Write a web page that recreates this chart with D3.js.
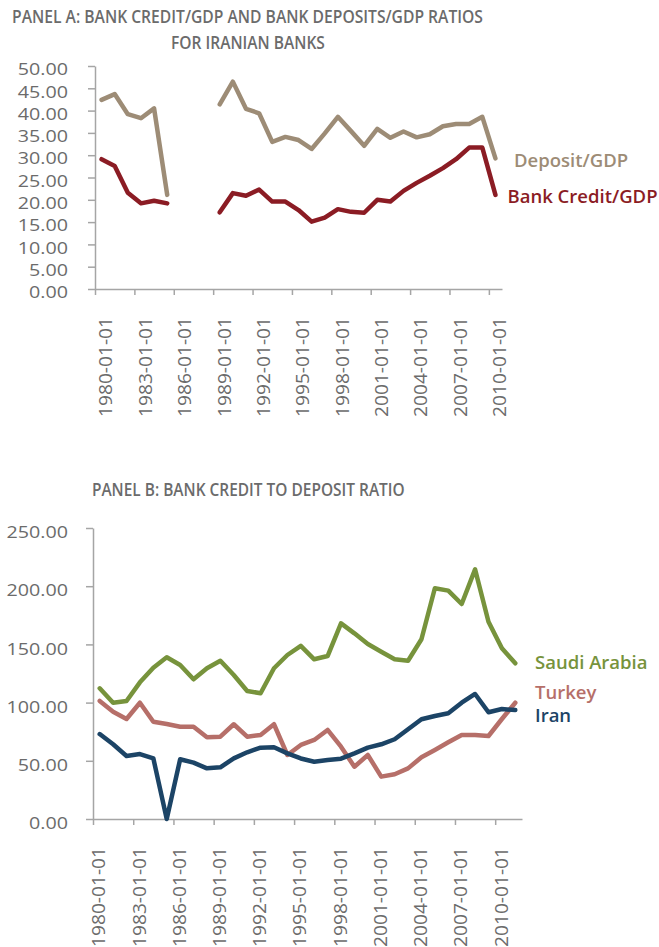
<!DOCTYPE html>
<html>
<head>
<meta charset="utf-8">
<script src="https://cdn.jsdelivr.net/npm/d3@7"></script>
<style>
  html, body { margin: 0; padding: 0; background: #fff; }
  svg { display: block; font-family: "Open Sans", "Noto Sans", sans-serif; }
</style>
</head>
<body>
<svg id="chart" width="659" height="947"></svg>
<script>
// ---- Panel A: Iranian banks, ratios to GDP (%) ----
const yearsA = [1980, 1981, 1982, 1983, 1984, 1985, 1986, 1987, 1988, 1989,
                1990, 1991, 1992, 1993, 1994, 1995, 1996, 1997, 1998, 1999,
                2000, 2001, 2002, 2003, 2004, 2005, 2006, 2007, 2008, 2009, 2010];
const depositGDP = [42.4, 43.7, 39.2, 38.3, 40.5, 21.1, null, null, null, 41.4,
                    46.5, 40.4, 39.4, 33.0, 34.1, 33.4, 31.4, 34.9, 38.6, 35.4,
                    32.1, 35.9, 33.9, 35.3, 34.0, 34.7, 36.5, 37.0, 37.0, 38.6, 29.3];
const creditGDP = [29.1, 27.6, 21.6, 19.2, 19.8, 19.2, null, null, null, 17.2,
                   21.5, 20.9, 22.3, 19.6, 19.6, 17.7, 15.1, 16.0, 17.9, 17.3,
                   17.1, 20.0, 19.6, 22.0, 23.8, 25.4, 27.1, 29.1, 31.7, 31.7, 21.1];
const yTicksA = [0, 5, 10, 15, 20, 25, 30, 35, 40, 45, 50];

// ---- Panel B: bank credit to deposit ratio (%) ----
const yearsB = [1980, 1981, 1982, 1983, 1984, 1985, 1986, 1987, 1988, 1989,
                1990, 1991, 1992, 1993, 1994, 1995, 1996, 1997, 1998, 1999,
                2000, 2001, 2002, 2003, 2004, 2005, 2006, 2007, 2008, 2009, 2010, 2011];
const saudiArabia = [112.3, 99.9, 101.4, 117.4, 130.0, 138.9, 132.3, 120.0, 129.5, 136.0,
                     123.7, 110.0, 108.0, 129.5, 140.9, 148.8, 137.2, 140.0, 168.1, 159.5,
                     150.3, 143.7, 137.2, 136.0, 154.4, 198.2, 196.2, 184.7, 214.5, 169.5,
                     146.6, 133.8];
const turkey = [101.4, 92.2, 85.9, 99.9, 83.6, 81.6, 79.3, 79.3, 70.2, 70.7,
                81.4, 70.7, 72.2, 81.4, 55.0, 63.6, 67.9, 76.5, 62.1, 44.9,
                55.0, 36.4, 38.4, 43.5, 53.0, 59.3, 65.9, 72.2, 72.2, 71.3,
                85.9, 99.9];
const iran = [73.0, 64.2, 54.1, 55.8, 52.1, 0.0, 51.3, 48.4, 43.5, 44.4,
              52.1, 57.3, 61.3, 61.6, 56.4, 52.0, 49.2, 50.7, 51.8, 56.4,
              61.3, 64.2, 68.5, 77.1, 85.7, 88.5, 90.8, 99.9, 107.4, 91.7,
              94.5, 93.6];
const yTicksB = [0, 50, 100, 150, 200, 250];

const xTickYears = [1980, 1983, 1986, 1989, 1992, 1995, 1998, 2001, 2004, 2007, 2010];

const svg = d3.select("#chart");
const axisColor = "#a5a5a5";
const textColor = "#6b6b6b";

// Stretch a text element horizontally (in its own frame) to a given width.
function fitWidth(sel, width) {
  sel.each(function () {
    const t = d3.select(this);
    const w = this.getComputedTextLength();
    const prev = t.attr("transform") || "";
    t.attr("transform", prev + ` scale(${width / w},1)`);
  });
}

function title(text, cx, baseline, width, size) {
  const t = svg.append("text")
    .attr("text-anchor", "middle")
    .attr("font-size", size)
    .attr("font-weight", 600)
    .attr("fill", textColor)
    .attr("transform", `translate(${cx},${baseline})`)
    .text(text);
  fitWidth(t, width);
}

function panel(cfg) {
  const g = svg.append("g");
  const x = d3.scaleLinear().domain(cfg.xDomain).range(cfg.xRange);
  const y = d3.scaleLinear().domain(cfg.yDomain).range(cfg.yRange);

  // y axis
  const yAxis = g.append("g")
    .attr("transform", `translate(${cfg.xRange[0]},0)`)
    .call(d3.axisLeft(y).tickValues(cfg.yTicks).tickSize(7).tickSizeOuter(0).tickFormat(d3.format(".2f")));
  yAxis.select(".domain").attr("stroke", axisColor).attr("stroke-width", 1.5);
  yAxis.selectAll(".tick line").attr("stroke", axisColor).attr("stroke-width", 1.5);
  yAxis.selectAll(".tick text")
    .attr("x", null).attr("dy", null)
    .attr("font-size", 16)
    .attr("font-family", "'Open Sans', sans-serif")
    .attr("fill", textColor)
    .attr("text-anchor", "end")
    .attr("dominant-baseline", "central")
    .attr("transform", `translate(${68 - cfg.xRange[0]},${cfg.yLabelShift}) scale(1.23,1)`);

  // x axis
  const xAxis = g.append("g")
    .attr("transform", `translate(0,${cfg.yRange[0]})`)
    .call(d3.axisBottom(x).tickValues(xTickYears).tickSize(6).tickSizeOuter(0)
      .tickFormat(d => d + "-01-01"));
  xAxis.select(".domain").attr("stroke", axisColor).attr("stroke-width", 1.5);
  xAxis.selectAll(".tick line").attr("stroke", axisColor).attr("stroke-width", 1.5);
  xAxis.selectAll(".tick text")
    .attr("y", null).attr("dy", null)
    .attr("font-size", 18.5)
    .attr("font-family", "'Open Sans', sans-serif")
    .attr("fill", textColor)
    .attr("text-anchor", "end")
    .attr("dominant-baseline", "central")
    .attr("transform", `translate(${cfg.xLabelShift},${cfg.xLabelTop - cfg.yRange[0]}) rotate(-90)`);
  fitWidth(xAxis.selectAll(".tick text"), 100);

  // series lines, points at category centres
  const line = d3.line()
    .defined(d => d.v != null)
    .x(d => x(d.year + 0.5))
    .y(d => y(d.v));
  cfg.series.forEach(s => {
    const pts = cfg.years.map((yr, i) => ({ year: yr, v: s.values[i] }));
    g.append("path")
      .datum(pts)
      .attr("fill", "none")
      .attr("stroke", s.color)
      .attr("stroke-width", 4.5)
      .attr("stroke-linejoin", "round")
      .attr("stroke-linecap", "round")
      .attr("d", line);
  });

  // series labels
  cfg.series.forEach(s => {
    g.append("text")
      .attr("x", s.lx).attr("y", s.ly)
      .attr("font-size", 18.5)
      .attr("font-weight", 600)
      .attr("fill", s.color)
      .text(s.name);
  });
}

// Titles
title("PANEL A: BANK CREDIT/GDP AND BANK DEPOSITS/GDP RATIOS", 247.5, 22.7, 471, 18);
title("FOR IRANIAN BANKS", 248, 49.3, 154, 18);
title("PANEL B: BANK CREDIT TO DEPOSIT RATIO", 248.3, 496, 313, 18);

panel({
  xDomain: [1980, 2011], xRange: [95, 502],
  yDomain: [0, 50], yRange: [289, 66],
  yTicks: yTicksA, yLabelShift: 2.5,
  xLabelShift: 10, xLabelTop: 317,
  years: yearsA,
  series: [
    { name: "Deposit/GDP", values: depositGDP, color: "#9d8c76", lx: 514, ly: 166.7 },
    { name: "Bank Credit/GDP", values: creditGDP, color: "#8b1c24", lx: 507.5, ly: 203.3 }
  ]
});

panel({
  xDomain: [1980, 2012], xRange: [93, 522],
  yDomain: [0, 250], yRange: [819, 528],
  yTicks: yTicksB, yLabelShift: 3.5,
  xLabelShift: 5, xLabelTop: 847,
  years: yearsB,
  series: [
    { name: "Saudi Arabia", values: saudiArabia, color: "#77933c", lx: 535, ly: 669.3 },
    { name: "Turkey", values: turkey, color: "#b66f69", lx: 535, ly: 699 },
    { name: "Iran", values: iran, color: "#1c4466", lx: 535, ly: 721.7 }
  ]
});
</script>
</body>
</html>
